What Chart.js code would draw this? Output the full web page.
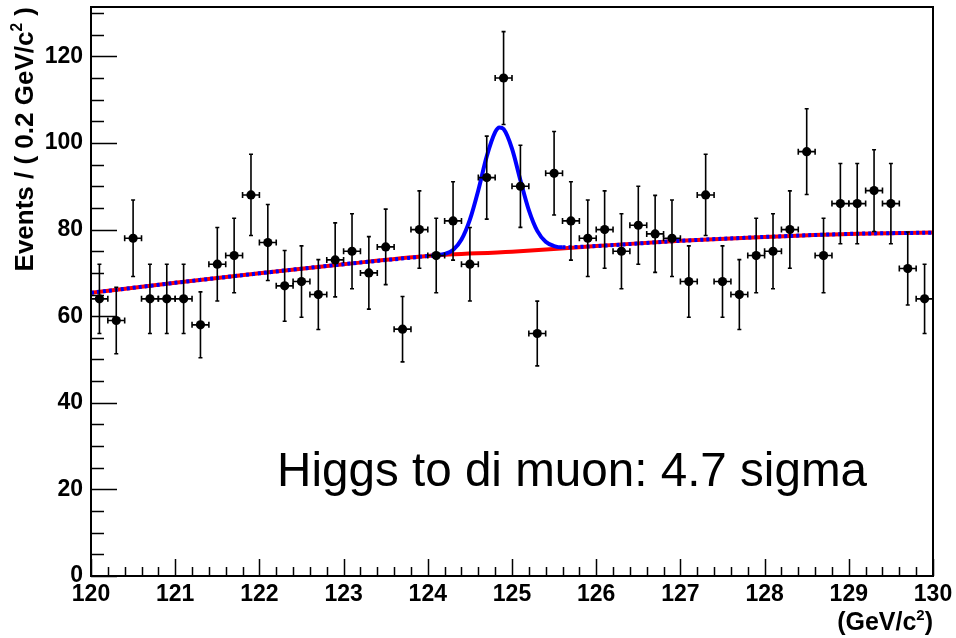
<!DOCTYPE html>
<html>
<head>
<meta charset="utf-8">
<script src="https://cdn.jsdelivr.net/npm/chart.js@4/dist/chart.umd.min.js"></script>
<style>
  html, body { margin: 0; padding: 0; background: #fff; }
</style>
</head>
<body>
<canvas id="chart" width="956" height="638"></canvas>
<script>
/* ============================================
   DATA
   ============================================ */

// bin centres (0.2 GeV bins)
const binCenters = [
  120.1, 120.3, 120.5, 120.7, 120.9, 121.1, 121.3, 121.5, 121.7, 121.9,
  122.1, 122.3, 122.5, 122.7, 122.9, 123.1, 123.3, 123.5, 123.7, 123.9,
  124.1, 124.3, 124.5, 124.7, 124.9, 125.1, 125.3, 125.5, 125.7, 125.9,
  126.1, 126.3, 126.5, 126.7, 126.9, 127.1, 127.3, 127.5, 127.7, 127.9,
  128.1, 128.3, 128.5, 128.7, 128.9, 129.1, 129.3, 129.5, 129.7, 129.9
];
const binHalfWidth = 0.1;

// events per bin
const counts = [
  64, 59, 78, 64, 64, 64, 58, 72, 74, 88,
  77, 67, 68, 65, 73, 75, 70, 76, 57, 80,
  74, 82, 72, 92, 115, 90, 56, 93, 82, 78,
  80, 75, 81, 79, 78, 68, 88, 68, 65, 74,
  75, 80, 98, 74, 86, 86, 89, 86, 71, 64
];

// background fit (red)
const bkgX = [120, 121, 122, 123, 124, 125, 126, 127, 128, 129, 130];
const bkgY = [65.4, 67.7, 69.9, 72.0, 73.9, 74.9, 76.2, 77.4, 78.3, 79.0, 79.3];

// signal + background fit (blue)
const totalX = [120, 121, 122, 123, 124, 124.1, 124.2, 124.3, 124.4, 124.5, 124.6,
  124.7, 124.8, 124.85, 124.9, 125.0, 125.1, 125.2, 125.3, 125.4, 125.5, 125.6,
  126, 127, 128, 129, 130];
const totalY = [65.4, 67.7, 69.9, 72.0, 73.9, 74.1, 74.4, 75.3, 77.7, 82.3, 89.1,
  96.9, 102.5, 103.6, 103.2, 98.7, 91.4, 84.5, 79.7, 77.2, 76.2, 75.9,
  76.2, 77.4, 78.3, 79.0, 79.3];
const peakFrom = 124.15;
const peakTo = 125.55;

// axes
const xTickLabels = [120, 121, 122, 123, 124, 125, 126, 127, 128, 129, 130];
const yTickLabels = [0, 20, 40, 60, 80, 100, 120];
const xMin = 120, xMax = 130;
const yMin = 0, yMax = 131.4;

// titles, pieces marked sup are drawn as superscripts
const xTitle = [{ text: '(GeV/c' }, { text: '2', sup: true }, { text: ')' }];
const yTitle = [{ text: 'Events / ( 0.2 GeV/c' }, { text: '2', sup: true }, { text: ' )' }];
const caption = 'Higgs to di muon: 4.7 sigma';

const FONT = '"Liberation Sans", Arial, Helvetica, sans-serif';

/* ============================================
   HELPERS
   ============================================ */

// draw text pieces right-aligned so that they end at endX
function drawPieces(ctx, pieces, endX, baseY, size) {
  const fontFor = p => 'bold ' + (p.sup ? size * 0.6 : size) + 'px ' + FONT;
  const widths = pieces.map(p => { ctx.font = fontFor(p); return ctx.measureText(p.text).width; });
  let x = endX - widths.reduce((s, w) => s + w, 0);
  pieces.forEach((p, i) => {
    ctx.font = fontFor(p);
    ctx.fillText(p.text, x, p.sup ? baseY - size * 0.42 : baseY);
    x += widths[i];
  });
}

/* ============================================
   PLUGINS
   ============================================ */

// ROOT style frame with inward ticks
const rootFrame = {
  id: 'rootFrame',
  afterDatasetsDraw(chart) {
    const { ctx, chartArea: a, scales: { x, y } } = chart;
    ctx.save();
    ctx.strokeStyle = '#000';
    ctx.lineWidth = 1.5;
    ctx.beginPath();
    // x ticks: major every 1, minor every 0.2
    for (let i = 0; i <= 50; i++) {
      const v = xMin + i * 0.2;
      const px = Math.round(x.getPixelForValue(v)) + 0.5;
      const len = i % 5 === 0 ? 17 : 9;
      ctx.moveTo(px, a.bottom);
      ctx.lineTo(px, a.bottom - len);
    }
    // y ticks: major every 20, minor every 5
    for (let v = 0; v <= yMax; v += 5) {
      const py = Math.round(y.getPixelForValue(v)) + 0.5;
      const len = v % 20 === 0 ? 26 : 13;
      ctx.moveTo(a.left, py);
      ctx.lineTo(a.left + len, py);
    }
    ctx.stroke();
    ctx.lineWidth = 2;
    ctx.strokeRect(a.left, a.top, a.right - a.left, a.bottom - a.top);
    ctx.restore();
  }
};

// Poisson error bars + bin width bars
const errorBars = {
  id: 'errorBars',
  afterDatasetsDraw(chart) {
    const { ctx, scales: { x, y } } = chart;
    ctx.save();
    ctx.strokeStyle = '#000';
    ctx.lineWidth = 1.6;
    binCenters.forEach((c, i) => {
      const n = counts[i];
      const err = Math.sqrt(n);
      const px = x.getPixelForValue(c);
      const py = y.getPixelForValue(n);
      const yTop = y.getPixelForValue(n + err);
      const yBot = y.getPixelForValue(n - err);
      const xL = x.getPixelForValue(c - binHalfWidth);
      const xR = x.getPixelForValue(c + binHalfWidth);
      ctx.beginPath();
      ctx.moveTo(px, yTop); ctx.lineTo(px, yBot);
      ctx.moveTo(px - 2, yTop); ctx.lineTo(px + 2, yTop);
      ctx.moveTo(px - 2, yBot); ctx.lineTo(px + 2, yBot);
      ctx.moveTo(xL, py); ctx.lineTo(xR, py);
      ctx.moveTo(xL, py - 3); ctx.lineTo(xL, py + 3);
      ctx.moveTo(xR, py - 3); ctx.lineTo(xR, py + 3);
      ctx.stroke();
    });
    ctx.restore();
  }
};

// axis titles with superscripts and the caption inside the frame
const texts = {
  id: 'texts',
  afterDraw(chart) {
    const { ctx, chartArea: a, scales: { x, y } } = chart;
    ctx.save();
    ctx.fillStyle = '#000';
    ctx.textAlign = 'left';
    ctx.textBaseline = 'alphabetic';

    // x title, right aligned under the axis
    drawPieces(ctx, xTitle, a.right, 630, 25);

    // y title, rotated, ending at the top of the frame
    ctx.save();
    ctx.translate(33, a.top);
    ctx.rotate(-Math.PI / 2);
    drawPieces(ctx, yTitle, 0, 0, 26);
    ctx.restore();

    ctx.font = '47.6px ' + FONT;
    ctx.fillText(caption, x.getPixelForValue(122.21), y.getPixelForValue(20.8));
    ctx.restore();
  }
};

/* ============================================
   CHART
   ============================================ */

const ctx = document.getElementById('chart').getContext('2d');

new Chart(ctx, {
  data: {
    datasets: [
      {
        type: 'scatter',
        data: binCenters.map((c, i) => ({ x: c, y: counts[i] })),
        pointRadius: 4.6,
        pointBackgroundColor: '#000',
        pointBorderWidth: 0,
        showLine: false,
        order: 0,
      },
      {
        type: 'line',
        data: totalX.map((v, i) => ({ x: v, y: totalY[i] })),
        borderColor: '#0000ff',
        borderWidth: 4,
        pointRadius: 0,
        fill: false,
        cubicInterpolationMode: 'monotone',
        segment: {
          borderDash: c => (c.p1.parsed.x <= peakFrom || c.p0.parsed.x >= peakTo) ? [3, 3] : undefined,
        },
        order: 1,
      },
      {
        type: 'line',
        data: bkgX.map((v, i) => ({ x: v, y: bkgY[i] })),
        borderColor: '#ff0000',
        borderWidth: 4,
        pointRadius: 0,
        fill: false,
        cubicInterpolationMode: 'monotone',
        order: 2,
      },
    ]
  },
  options: {
    responsive: false,
    animation: false,
    events: [],
    layout: { padding: { top: 7, right: 23, left: 0, bottom: 0 } },
    plugins: {
      legend: { display: false },
      tooltip: { enabled: false },
    },
    scales: {
      x: {
        type: 'linear',
        min: xMin,
        max: xMax,
        grid: { display: false, drawTicks: false },
        border: { display: false },
        afterBuildTicks: s => { s.ticks = xTickLabels.map(v => ({ value: v })); },
        afterFit: s => { s.height = 62; s.paddingLeft = 0; s.paddingRight = 0; },
        ticks: {
          color: '#000',
          padding: 5,
          maxRotation: 0,
          font: { family: FONT, size: 23, weight: 'bold' },
        },
      },
      y: {
        type: 'linear',
        min: yMin,
        max: yMax,
        grid: { display: false, drawTicks: false },
        border: { display: false },
        afterBuildTicks: s => { s.ticks = yTickLabels.map(v => ({ value: v })); },
        afterFit: s => { s.width = 91; s.paddingTop = 0; s.paddingBottom = 0; },
        ticks: {
          color: '#000',
          padding: 8,
          font: { family: FONT, size: 23, weight: 'bold' },
        },
      },
    },
  },
  plugins: [rootFrame, errorBars, texts],
});
</script>
</body>
</html>
